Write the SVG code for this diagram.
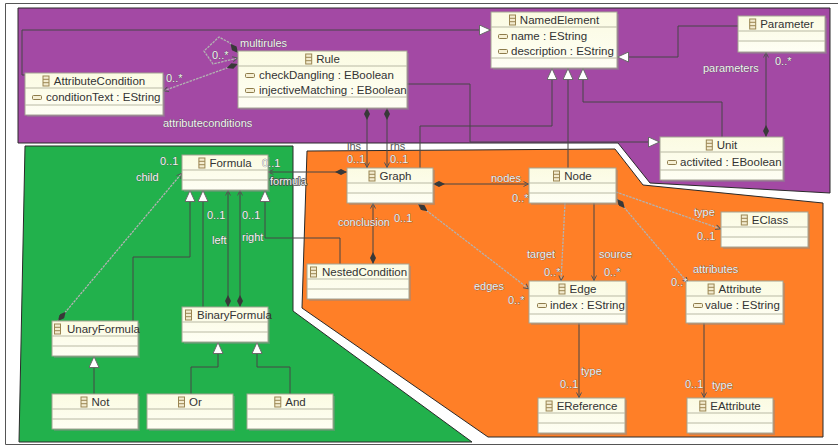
<svg xmlns="http://www.w3.org/2000/svg" width="838" height="447" viewBox="0 0 838 447">
<style>
text{font-family:"Liberation Sans",Arial,sans-serif}
.rg{stroke:#2a2a2a;stroke-width:1}
.sh{fill:#8c8c8c;opacity:.45}
.bx{fill:url(#gb);stroke:#a3a392;stroke-width:1}
.sp{stroke:#b9b9a4;stroke-width:1;fill:none}
.nm{font-size:11.5px;fill:#333;text-anchor:middle}
.nl{font-size:11.5px;fill:#333}
.at{font-size:11.5px;fill:#333}
.ln{fill:none;stroke:#474747;stroke-width:1}
.lg{fill:none;stroke:#b2b2b2;stroke-width:1.3;stroke-dasharray:2.5 1}
.gen{marker-end:url(#tri)}
.cmp{marker-start:url(#dia);marker-end:url(#arr)}
.ref{marker-end:url(#arr)}
.lb{font-size:11px;fill:#f4f4f4;stroke:#4a4a4a;stroke-width:.5;paint-order:stroke}
.lw{font-size:11px;fill:#f4f4f4;stroke:#4a4a4a;stroke-width:1.4;paint-order:stroke}
.ld{font-size:11px;fill:#555}
</style>
<defs>
<linearGradient id="gb" x1="0" y1="0" x2="0" y2="1">
<stop offset="0" stop-color="#fbfbe2"/>
<stop offset="1" stop-color="#fefef4"/>
</linearGradient>
<marker id="tri" viewBox="0 0 12 11" refX="12" refY="5.5" markerWidth="12" markerHeight="11" markerUnits="userSpaceOnUse" orient="auto"><path d="M0.5,0.5 L11.5,5.5 L0.5,10.5 Z" fill="#fff" stroke="#6a6a6a"/></marker>
<marker id="dia" viewBox="0 0 12 6" refX="0" refY="3" markerWidth="12" markerHeight="6" markerUnits="userSpaceOnUse" orient="auto"><path d="M0,3 L6,0 L12,3 L6,6 Z" fill="#383838"/></marker>
<marker id="arr" viewBox="0 0 6 6" refX="6" refY="3" markerWidth="6" markerHeight="6" markerUnits="userSpaceOnUse" orient="auto"><path d="M0.5,0.5 L5.5,3 L0.5,5.5" fill="none" stroke="#555" stroke-width="1"/></marker>
<g id="ci"><rect x="0.5" y="0.5" width="6" height="10" fill="#f3ecd0" stroke="#9a8552"/><path d="M0.5,3.8 H6.5 M0.5,7.2 H6.5" stroke="#9a8552"/></g>
<g id="ai"><rect x="0.5" y="0.5" width="9" height="4" rx="1" fill="#f6f0d4" stroke="#8d7b4b"/></g>
</defs>

<rect width="838" height="447" fill="#fff"/>
<path d="M838,3.5 H5.5 V444.5 H838" fill="none" stroke="#555"/>

<g id="regions">
<path class="rg" fill="#a349a4" d="M18,8 H830 V193 L650,183 L618,143 H18 Z"/>
<path class="rg" fill="#22b14c" d="M25,146 H293 V311 L472,442 H19 Z"/>
<path class="rg" fill="#ff7f27" d="M307,151 L615,149 L643,185 L823,203 V437 H488 L302,308 Z"/>
</g>

<g id="connectors">
<path class="ln gen" d="M25,75 H22 V30 H491"/>
<path class="ln gen" d="M407,84 H470 V142 H660"/>
<path class="ln gen" d="M722,137 V102 H583 V68"/>
<path class="ln gen" d="M568,168 V68"/>
<path class="ln gen" d="M420,168 V126 H552 V68"/>
<path class="ln gen" d="M738,26 H678 V57 H617"/>
<path class="ln gen" d="M340,264 V238 H265 V190"/>
<path class="ln gen" d="M133,321 V257 H190 V190"/>
<path class="ln gen" d="M203,307 V190"/>
<path class="ln gen" d="M94,394 V356"/>
<path class="ln gen" d="M191,394 V367 H218 V342"/>
<path class="ln gen" d="M290,394 V367 H257 V342"/>

<path class="lg cmp" d="M238,53 L230,43 L219,37 L204,51 L213,64 L238,58"/>
<path class="lg cmp" d="M238,64 L163,91"/>
<path class="ln cmp" d="M766,137 V52"/>
<path class="ln cmp" d="M367,108 V168"/>
<path class="ln cmp" d="M387,108 V168"/>
<path class="ln cmp" d="M347,172 H268"/>
<path class="ln cmp" d="M373,264 V203"/>
<path class="ln cmp" d="M433,184 H529"/>
<path class="lg cmp" d="M418,204 L529,289"/>
<path class="lg ref" d="M565,203 L561,281"/>
<path class="ln ref" d="M594,203 V281"/>
<path class="lg ref" d="M616,192 L721,229"/>
<path class="lg cmp" d="M617,199 L688,283"/>
<path class="ln ref" d="M579,323 V398"/>
<path class="ln ref" d="M704,323 V398"/>
<path class="ln cmp" d="M228,307 V190"/>
<path class="ln cmp" d="M240,307 V190"/>
<path class="lg cmp" d="M58,321 L182,173"/>
</g>

<g id="n-NamedElement">
<rect class="sh" x="493" y="14" width="126" height="56"/>
<rect class="bx" x="491" y="12" width="126" height="56"/>
<path class="sp" d="M491,27 H617 M491,58 H617"/>
<use href="#ci" x="509" y="14.5"/>
<text class="nm" x="559.5" y="23.5">NamedElement</text>
<use href="#ai" x="498" y="34"/><text class="at" x="511" y="40">name : EString</text>
<use href="#ai" x="498" y="49"/><text class="at" x="511" y="55">description : EString</text>
</g>

<g id="n-Parameter">
<rect class="sh" x="740" y="18" width="87" height="36"/>
<rect class="bx" x="738" y="16" width="87" height="36"/>
<path class="sp" d="M738,31 H825 M738,41 H825"/>
<use href="#ci" x="749.2" y="18.5"/>
<text class="nm" x="787" y="27.5">Parameter</text>
</g>

<g id="n-Rule">
<rect class="sh" x="240" y="53" width="169" height="57"/>
<rect class="bx" x="238" y="51" width="169" height="57"/>
<path class="sp" d="M238,66 H407 M238,97 H407"/>
<use href="#ci" x="305.2" y="53.5"/>
<text class="nm" x="328" y="62.5">Rule</text>
<use href="#ai" x="245" y="73"/><text class="at" x="259" y="79">checkDangling : EBoolean</text>
<use href="#ai" x="245" y="88"/><text class="at" x="259" y="94">injectiveMatching : EBoolean</text>
</g>

<g id="n-AttributeCondition">
<rect class="sh" x="27" y="75" width="138" height="42"/>
<rect class="bx" x="25" y="73" width="138" height="42"/>
<path class="sp" d="M25,88 H163 M25,105 H163"/>
<use href="#ci" x="42.5" y="75.5"/>
<text class="nm" x="99.5" y="84.5">AttributeCondition</text>
<use href="#ai" x="32" y="95"/><text class="at" x="46" y="101">conditionText : EString</text>
</g>

<g id="n-Unit">
<rect class="sh" x="662" y="139" width="123" height="43"/>
<rect class="bx" x="660" y="137" width="123" height="43"/>
<path class="sp" d="M660,152 H783 M660,170 H783"/>
<use href="#ci" x="705.8" y="139.5"/>
<text class="nm" x="727" y="148.5">Unit</text>
<use href="#ai" x="667" y="160"/><text class="at" x="680" y="166">activited : EBoolean</text>
</g>

<g id="n-Formula">
<rect class="sh" x="184" y="157" width="86" height="35"/>
<rect class="bx" x="182" y="155" width="86" height="35"/>
<path class="sp" d="M182,170 H268 M182,180 H268"/>
<use href="#ci" x="198.4" y="157.5"/>
<text class="nm" x="230.5" y="166.5">Formula</text>
</g>

<g id="n-Graph">
<rect class="sh" x="349" y="170" width="86" height="35"/>
<rect class="bx" x="347" y="168" width="86" height="35"/>
<path class="sp" d="M347,183 H433 M347,193 H433"/>
<use href="#ci" x="368.5" y="170.5"/>
<text class="nm" x="395.5" y="179.5">Graph</text>
</g>

<g id="n-Node">
<rect class="sh" x="531" y="170" width="87" height="35"/>
<rect class="bx" x="529" y="168" width="87" height="35"/>
<path class="sp" d="M529,183 H616 M529,193 H616"/>
<use href="#ci" x="553" y="170.5"/>
<text class="nm" x="578" y="179.5">Node</text>
</g>

<g id="n-NestedCondition">
<rect class="sh" x="309" y="266" width="102" height="35"/>
<rect class="bx" x="307" y="264" width="102" height="35"/>
<path class="sp" d="M307,279 H409 M307,289 H409"/>
<use href="#ci" x="310" y="266.5"/>
<text class="nl" x="322" y="275.5">NestedCondition</text>
</g>

<g id="n-EClass">
<rect class="sh" x="723" y="214" width="87" height="35"/>
<rect class="bx" x="721" y="212" width="87" height="35"/>
<path class="sp" d="M721,227 H808 M721,237 H808"/>
<use href="#ci" x="740.8" y="214.5"/>
<text class="nm" x="770" y="223.5">EClass</text>
</g>

<g id="n-Edge">
<rect class="sh" x="531" y="283" width="97" height="42"/>
<rect class="bx" x="529" y="281" width="97" height="42"/>
<path class="sp" d="M529,296 H626 M529,314 H626"/>
<use href="#ci" x="558.5" y="283.5"/>
<text class="nm" x="583" y="292.5">Edge</text>
<use href="#ai" x="537" y="303"/><text class="at" x="550" y="309">index : EString</text>
</g>

<g id="n-Attribute">
<rect class="sh" x="688" y="283" width="97" height="42"/>
<rect class="bx" x="686" y="281" width="97" height="42"/>
<path class="sp" d="M686,296 H783 M686,314 H783"/>
<use href="#ci" x="707.6" y="283.5"/>
<text class="nm" x="740" y="292.5">Attribute</text>
<use href="#ai" x="693" y="303"/><text class="at" x="705" y="309">value : EString</text>
</g>

<g id="n-EReference">
<rect class="sh" x="540" y="400" width="87" height="35"/>
<rect class="bx" x="538" y="398" width="87" height="35"/>
<path class="sp" d="M538,413 H625 M538,423 H625"/>
<use href="#ci" x="545.6" y="400.5"/>
<text class="nm" x="587" y="409.5">EReference</text>
</g>

<g id="n-EAttribute">
<rect class="sh" x="689" y="400" width="86" height="35"/>
<rect class="bx" x="687" y="398" width="86" height="35"/>
<path class="sp" d="M687,413 H773 M687,423 H773"/>
<use href="#ci" x="699.3" y="400.5"/>
<text class="nm" x="735.5" y="409.5">EAttribute</text>
</g>

<g id="n-UnaryFormula">
<rect class="sh" x="54" y="323" width="86" height="35"/>
<rect class="bx" x="52" y="321" width="86" height="35"/>
<path class="sp" d="M52,336 H138 M52,346 H138"/>
<use href="#ci" x="54" y="323.5"/>
<text class="nl" x="67" y="332.5">UnaryFormula</text>
</g>

<g id="n-BinaryFormula">
<rect class="sh" x="184" y="309" width="86" height="35"/>
<rect class="bx" x="182" y="307" width="86" height="35"/>
<path class="sp" d="M182,322 H268 M182,332 H268"/>
<use href="#ci" x="185" y="309.5"/>
<text class="nl" x="197" y="318.5">BinaryFormula</text>
</g>

<g id="n-Not">
<rect class="sh" x="54" y="396" width="86" height="35"/>
<rect class="bx" x="52" y="394" width="86" height="35"/>
<path class="sp" d="M52,409 H138 M52,419 H138"/>
<use href="#ci" x="80.5" y="396.5"/>
<text class="nm" x="100.5" y="405.5">Not</text>
</g>

<g id="n-Or">
<rect class="sh" x="149" y="396" width="86" height="35"/>
<rect class="bx" x="147" y="394" width="86" height="35"/>
<path class="sp" d="M147,409 H233 M147,419 H233"/>
<use href="#ci" x="178" y="396.5"/>
<text class="nm" x="195.5" y="405.5">Or</text>
</g>

<g id="n-And">
<rect class="sh" x="249" y="396" width="86" height="35"/>
<rect class="bx" x="247" y="394" width="86" height="35"/>
<path class="sp" d="M247,409 H333 M247,419 H333"/>
<use href="#ci" x="274.3" y="396.5"/>
<text class="nm" x="295.5" y="405.5">And</text>
</g>

<g id="labels">
<text class="lb" x="240" y="47">multirules</text>
<text class="lb" x="212" y="59">0..*</text>
<text class="lb" x="166" y="82">0..*</text>
<text class="lb" x="163" y="127">attributeconditions</text>
<text class="lb" x="703" y="72">parameters</text>
<text class="lb" x="775" y="65">0..*</text>
<text class="ld" x="347" y="150">lhs</text>
<text class="lb" x="347" y="163">0..1</text>
<text class="ld" x="390" y="150">rhs</text>
<text class="lb" x="390" y="163">0..1</text>
<text class="lb" x="262" y="167">0..1</text>
<text class="lw" x="270" y="185">formula</text>
<text class="lb" x="136" y="181">child</text>
<text class="lb" x="160" y="165">0..1</text>
<text class="lb" x="207" y="219">0..1</text>
<text class="lb" x="242" y="219">0..1</text>
<text class="lb" x="212" y="244">left</text>
<text class="lb" x="242" y="241">right</text>
<text class="lb" x="338" y="226">conclusion</text>
<text class="lb" x="394" y="222">0..1</text>
<text class="lb" x="491" y="182">nodes</text>
<text class="lb" x="512" y="202">0..*</text>
<text class="lb" x="474" y="290">edges</text>
<text class="lb" x="508" y="304">0..*</text>
<text class="lb" x="527" y="258">target</text>
<text class="lb" x="544" y="276">0..*</text>
<text class="lb" x="599" y="258">source</text>
<text class="lb" x="604" y="276">0..*</text>
<text class="lb" x="694" y="216">type</text>
<text class="lb" x="697" y="240">0..1</text>
<text class="lb" x="693" y="273">attributes</text>
<text class="lb" x="671" y="286">0..*</text>
<text class="lb" x="581" y="375">type</text>
<text class="lb" x="560" y="388">0..1</text>
<text class="lb" x="685" y="388">0..1</text>
<text class="lb" x="712" y="389">type</text>
</g>
</svg>
